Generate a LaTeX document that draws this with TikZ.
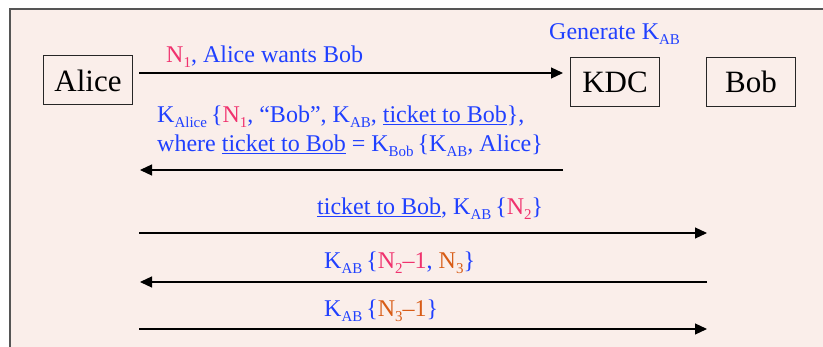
\documentclass[tikz,border=0pt]{standalone}
\usepackage{fontspec}
\setmainfont{Liberation Serif}
\usetikzlibrary{arrows.meta}

\definecolor{panelbg}{RGB}{250,238,234}
\definecolor{framegray}{RGB}{85,85,85}
\definecolor{msgblue}{RGB}{32,64,255}
\definecolor{noncepink}{RGB}{240,50,110}
\definecolor{nonceorange}{RGB}{216,92,22}

% lowered, smaller text for subscripts in message labels
\newcommand\lowtext[1]{\raisebox{-5pt}{\fontsize{15}{15}\selectfont #1}}
\newcommand\pk[1]{\textcolor{noncepink}{#1}}
\newcommand\ok[1]{\textcolor{nonceorange}{#1}}

\tikzset{
  party/.style={draw=black!85, line width=1pt, inner sep=0pt,
    minimum width=89pt, minimum height=49pt,
    font=\fontsize{31}{31}\selectfont},
  msg/.style={anchor=base west, inner sep=0pt, text=msgblue,
    font=\fontsize{24}{28}\selectfont},
  flow/.style={line width=1.2pt, -{Triangle[length=12pt,width=11pt]}},
}

\begin{document}
\begin{tikzpicture}[x=1pt, y=-1pt]
  \useasboundingbox (0,0) rectangle (823,347);
  % slide panel
  \fill[white] (0,0) rectangle (823,347);
  \fill[panelbg] (10,9) rectangle (823,347);
  \draw[framegray, line width=1.6pt] (10,348) -- (10,9) -- (824,9);

  % parties
  \node[party] (alice) at (88,80.5) {Alice};
  \node[party] (kdc)   at (615,82)  {KDC};
  \node[party] (bob)   at (751,82)  {Bob};

  % endpoints of the message arrows
  \coordinate (a1) at (139,73);
  \coordinate (k1) at (563,73);
  \coordinate (k2) at (563,170);
  \coordinate (a2) at (140,170);
  \coordinate (a3) at (139,233);
  \coordinate (b3) at (707,233);
  \coordinate (b4) at (707,282);
  \coordinate (a4) at (140,282);
  \coordinate (a5) at (139,329);
  \coordinate (b5) at (707,329);

  \draw[flow] (a1) -- (k1);
  \draw[flow] (k2) -- (a2);
  \draw[flow] (a3) -- (b3);
  \draw[flow] (b4) -- (a4);
  \draw[flow] (a5) -- (b5);

  % message labels
  \node[msg] (gen) at (549,40) {Generate K\lowtext{AB}};
  \node[msg] (m1) at (166,63) {\pk{N\lowtext{1}}, Alice wants Bob};
  \node[msg] (m2a) at (157,123) {K\lowtext{Alice}\,\{\pk{N\lowtext{1}}, “Bob”, K\lowtext{AB}, \underline{ticket to Bob}\},};
  \node[msg] (m2b) at (157,152) {where \underline{ticket to Bob} = K\lowtext{Bob}\,\{K\lowtext{AB}, Alice\}};
  \node[msg] (m3) at (317,215) {\underline{ticket to Bob}, K\lowtext{AB}\,\{\pk{N\lowtext{2}}\}};
  \node[msg] (m4) at (324,269) {K\lowtext{AB}\,\{\pk{N\lowtext{2}–1}, \ok{N\lowtext{3}}\}};
  \node[msg] (m5) at (324,317) {K\lowtext{AB}\,\{\ok{N\lowtext{3}–1}\}};
\end{tikzpicture}
\end{document}
